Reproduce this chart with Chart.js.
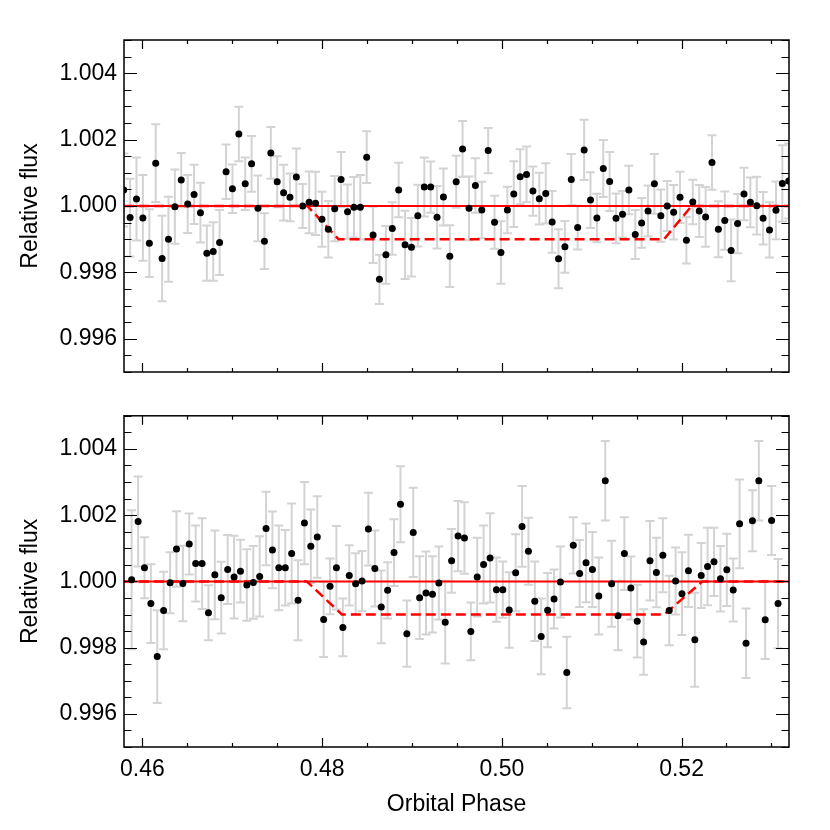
<!DOCTYPE html>
<html>
<head>
<meta charset="utf-8">
<script src="https://cdn.jsdelivr.net/npm/chart.js@4.4.1/dist/chart.umd.min.js"></script>
<style>
  html, body { margin: 0; padding: 0; background: #fff; }
  #wrap { position: relative; width: 830px; height: 830px; }
  canvas { position: absolute; left: 0; }
  #topChart { top: 0; }
  #bottomChart { top: 395px; }
</style>
</head>
<body>
<div id="wrap">
  <canvas id="topChart" width="830" height="395"></canvas>
  <canvas id="bottomChart" width="830" height="435"></canvas>
</div>
<script>
// axis ranges and tick labels
const phaseRange = [0.45795, 0.53196];
const fluxRange = [0.995, 1.005];
const phaseTicks = [0.46, 0.48, 0.50, 0.52];
const fluxTicks = [0.996, 0.998, 1.000, 1.002, 1.004];

// upper panel light curve
const topPhase = [
  0.45792, 0.45863, 0.45934, 0.46005, 0.46077, 0.46148, 0.46219, 0.46290, 0.46361, 0.46432,
  0.46504, 0.46575, 0.46646, 0.46717, 0.46788, 0.46859, 0.46931, 0.47002, 0.47073, 0.47144,
  0.47215, 0.47286, 0.47358, 0.47429, 0.47500, 0.47571, 0.47642, 0.47713, 0.47784, 0.47856,
  0.47927, 0.47998, 0.48069, 0.48140, 0.48211, 0.48283, 0.48354, 0.48425, 0.48496, 0.48567,
  0.48638, 0.48710, 0.48781, 0.48852, 0.48923, 0.48994, 0.49065, 0.49137, 0.49208, 0.49279,
  0.49350, 0.49421, 0.49492, 0.49563, 0.49635, 0.49706, 0.49777, 0.49848, 0.49919, 0.49990,
  0.50062, 0.50133, 0.50204, 0.50275, 0.50346, 0.50417, 0.50489, 0.50560, 0.50631, 0.50702,
  0.50773, 0.50844, 0.50916, 0.50987, 0.51058, 0.51129, 0.51200, 0.51271, 0.51343, 0.51414,
  0.51485, 0.51556, 0.51627, 0.51698, 0.51770, 0.51841, 0.51912, 0.51983, 0.52054, 0.52125,
  0.52197, 0.52268, 0.52339, 0.52410, 0.52481, 0.52552, 0.52624, 0.52695, 0.52766, 0.52837,
  0.52908, 0.52979, 0.53051, 0.53122, 0.53193
];
const topFlux = [
  1.00048, 0.99965, 1.00021, 0.99964, 0.99888, 1.00129, 0.99842, 0.99900, 0.99998, 1.00078,
  1.00006, 1.00035, 0.99980, 0.99858, 0.99863, 0.99890, 1.00103, 1.00052, 1.00217, 1.00067,
  1.00127, 0.99993, 0.99894, 1.00160, 1.00073, 1.00040, 1.00026, 1.00087, 1.00000, 1.00011,
  1.00008, 0.99960, 0.99930, 0.99992, 1.00080, 0.99983, 0.99996, 0.99996, 1.00147, 0.99913,
  0.99779, 0.99853, 0.99932, 1.00048, 0.99883, 0.99876, 0.99971, 1.00057, 1.00057, 0.99966,
  1.00027, 0.99849, 1.00073, 1.00172, 0.99993, 1.00062, 0.99988, 1.00167, 0.99951, 0.99860,
  0.99988, 1.00036, 1.00088, 1.00095, 1.00045, 1.00022, 1.00038, 0.99952, 0.99841, 0.99877,
  1.00080, 0.99935, 1.00169, 1.00018, 0.99964, 1.00113, 1.00074, 0.99963, 0.99975, 1.00048,
  0.99914, 0.99949, 0.99985, 1.00067, 0.99971, 1.00000, 0.99981, 1.00026, 0.99897, 1.00012,
  0.99985, 0.99967, 1.00131, 0.99930, 0.99956, 0.99866, 0.99947, 1.00036, 1.00011, 1.00001,
  0.99963, 0.99928, 0.99987, 1.00068, 1.00075
];
const topErr = [
  0.00110, 0.00117, 0.00125, 0.00129, 0.00102, 0.00117, 0.00129, 0.00128, 0.00112, 0.00082,
  0.00087, 0.00089, 0.00090, 0.00083, 0.00088, 0.00098, 0.00082, 0.00073, 0.00082, 0.00079,
  0.00084, 0.00099, 0.00084, 0.00078, 0.00077, 0.00084, 0.00072, 0.00086, 0.00066, 0.00093,
  0.00095, 0.00083, 0.00085, 0.00098, 0.00083, 0.00082, 0.00091, 0.00097, 0.00078, 0.00085,
  0.00074, 0.00087, 0.00079, 0.00082, 0.00103, 0.00088, 0.00093, 0.00089, 0.00077, 0.00094,
  0.00086, 0.00093, 0.00078, 0.00084, 0.00096, 0.00082, 0.00085, 0.00068, 0.00080, 0.00094,
  0.00070, 0.00099, 0.00083, 0.00084, 0.00074, 0.00078, 0.00091, 0.00093, 0.00089, 0.00078,
  0.00077, 0.00066, 0.00091, 0.00084, 0.00073, 0.00086, 0.00089, 0.00075, 0.00070, 0.00073,
  0.00074, 0.00075, 0.00077, 0.00090, 0.00079, 0.00075, 0.00082, 0.00077, 0.00070, 0.00067,
  0.00078, 0.00090, 0.00082, 0.00084, 0.00088, 0.00093, 0.00089, 0.00079, 0.00075, 0.00087,
  0.00079, 0.00083, 0.00087, 0.00115, 0.00113
];

// lower panel light curve
const bottomPhase = [
  0.45880, 0.45952, 0.46023, 0.46094, 0.46165, 0.46236, 0.46308, 0.46379, 0.46450, 0.46521,
  0.46593, 0.46664, 0.46735, 0.46806, 0.46877, 0.46949, 0.47020, 0.47091, 0.47162, 0.47234,
  0.47305, 0.47376, 0.47447, 0.47518, 0.47590, 0.47661, 0.47732, 0.47803, 0.47874, 0.47946,
  0.48017, 0.48088, 0.48159, 0.48231, 0.48302, 0.48373, 0.48444, 0.48515, 0.48587, 0.48658,
  0.48729, 0.48800, 0.48872, 0.48943, 0.49014, 0.49085, 0.49156, 0.49228, 0.49299, 0.49370,
  0.49441, 0.49513, 0.49584, 0.49655, 0.49726, 0.49797, 0.49869, 0.49940, 0.50011, 0.50082,
  0.50154, 0.50225, 0.50296, 0.50367, 0.50438, 0.50510, 0.50581, 0.50652, 0.50723, 0.50795,
  0.50866, 0.50937, 0.51008, 0.51079, 0.51151, 0.51222, 0.51293, 0.51364, 0.51436, 0.51507,
  0.51578, 0.51649, 0.51720, 0.51792, 0.51863, 0.51934, 0.52005, 0.52077, 0.52148, 0.52219,
  0.52290, 0.52361, 0.52433, 0.52504, 0.52575, 0.52646, 0.52718, 0.52789, 0.52860, 0.52931,
  0.53002, 0.53074
];
const bottomFlux = [
  1.00005, 1.00181, 1.00041, 0.99933, 0.99773, 0.99912, 0.99996, 1.00098, 0.99994, 1.00113,
  1.00054, 1.00054, 0.99905, 1.00020, 0.99951, 1.00036, 1.00013, 1.00031, 0.99989, 0.99997,
  1.00015, 1.00160, 1.00095, 1.00041, 1.00041, 1.00084, 0.99943, 1.00176, 1.00106, 1.00134,
  0.99885, 0.99985, 1.00041, 0.99861, 1.00018, 0.99993, 1.00001, 1.00158, 1.00039, 0.99923,
  0.99973, 1.00087, 1.00233, 0.99842, 1.00148, 0.99951, 0.99965, 0.99961, 0.99995, 0.99877,
  1.00062, 1.00137, 1.00131, 0.99849, 1.00013, 1.00051, 1.00071, 0.99975, 0.99975, 0.99914,
  1.00026, 1.00166, 1.00091, 0.99940, 0.99834, 0.99913, 0.99947, 0.99998, 0.99725, 1.00109,
  1.00024, 1.00056, 1.00036, 0.99956, 1.00304, 0.99993, 0.99896, 1.00084, 0.99980, 0.99880,
  0.99817, 1.00062, 1.00027, 1.00079, 0.99912, 1.00001, 0.99963, 1.00032, 0.99824, 1.00018,
  1.00045, 1.00059, 1.00008, 1.00035, 0.99974, 1.00174, 0.99813, 1.00183, 1.00304, 0.99884,
  1.00184, 0.99933
];
const bottomErr = [
  0.00210, 0.00136, 0.00092, 0.00119, 0.00140, 0.00117, 0.00092, 0.00114, 0.00114, 0.00092,
  0.00115, 0.00137, 0.00083, 0.00134, 0.00108, 0.00104, 0.00125, 0.00095, 0.00108, 0.00110,
  0.00121, 0.00111, 0.00116, 0.00128, 0.00114, 0.00151, 0.00121, 0.00124, 0.00111, 0.00123,
  0.00113, 0.00084, 0.00126, 0.00087, 0.00091, 0.00092, 0.00091, 0.00110, 0.00115, 0.00110,
  0.00085, 0.00101, 0.00115, 0.00100, 0.00135, 0.00125, 0.00125, 0.00115, 0.00110, 0.00125,
  0.00096, 0.00106, 0.00108, 0.00087, 0.00119, 0.00118, 0.00135, 0.00097, 0.00085, 0.00114,
  0.00116, 0.00122, 0.00101, 0.00120, 0.00114, 0.00112, 0.00089, 0.00107, 0.00108, 0.00085,
  0.00101, 0.00119, 0.00113, 0.00116, 0.00120, 0.00130, 0.00104, 0.00110, 0.00095, 0.00110,
  0.00099, 0.00120, 0.00105, 0.00112, 0.00105, 0.00101, 0.00125, 0.00109, 0.00142, 0.00098,
  0.00117, 0.00103, 0.00099, 0.00109, 0.00095, 0.00134, 0.00105, 0.00092, 0.00120, 0.00118,
  0.00104, 0.00135
];

// flat baseline and eclipse models
const baselinePhase = [0.45795, 0.53196];
const baselineFlux = [1.0, 1.0];
const topModelPhase = [0.45795, 0.47836, 0.48182, 0.51806, 0.52112, 0.53196];
const topModelFlux = [1.0, 1.0, 0.999, 0.999, 1.0, 1.0];
const bottomModelPhase = [0.45795, 0.47830, 0.48220, 0.51806, 0.52234, 0.53196];
const bottomModelFlux = [1.0, 1.0, 0.999, 0.999, 1.0, 1.0];

const FONT = '"Liberation Sans", Arial, Helvetica, sans-serif';
const zip = (xs, ys) => xs.map((x, i) => ({ x: x, y: ys[i] }));

// grey error bars behind the points
const errorBars = {
  id: 'errorBars',
  beforeDatasetsDraw(chart) {
    const { ctx, chartArea: a, scales: { x, y } } = chart;
    const pts = chart.data.datasets[0].data;
    ctx.save();
    ctx.beginPath();
    ctx.rect(a.left, a.top, a.right - a.left, a.bottom - a.top);
    ctx.clip();
    ctx.strokeStyle = '#d3d3d3';
    ctx.lineWidth = 2;
    pts.forEach(p => {
      const px = x.getPixelForValue(p.x);
      const lo = y.getPixelForValue(p.y - p.err);
      const hi = y.getPixelForValue(p.y + p.err);
      ctx.beginPath();
      ctx.moveTo(px, lo); ctx.lineTo(px, hi);
      ctx.moveTo(px - 4.5, lo); ctx.lineTo(px + 4.5, lo);
      ctx.moveTo(px - 4.5, hi); ctx.lineTo(px + 4.5, hi);
      ctx.stroke();
    });
    ctx.restore();
  }
};

// box frame with inward ticks on all four sides
const frameTicks = {
  id: 'frameTicks',
  afterDraw(chart) {
    const { ctx, chartArea: a, scales: { x, y } } = chart;
    ctx.save();
    ctx.strokeStyle = '#000';
    ctx.lineWidth = 1.5;
    ctx.strokeRect(a.left, a.top, a.right - a.left, a.bottom - a.top);
    ctx.lineWidth = 1.2;
    ctx.beginPath();
    for (let i = 0; i <= 20; i++) {
      const v = 0.455 + i * 0.005;
      if (v < x.min || v > x.max) continue;
      const len = (i % 4 === 1) ? 9 : 4;
      const px = Math.round(x.getPixelForValue(v)) + 0.5;
      ctx.moveTo(px, a.bottom); ctx.lineTo(px, a.bottom - len);
      ctx.moveTo(px, a.top); ctx.lineTo(px, a.top + len);
    }
    for (let i = 0; i <= 20; i++) {
      const v = 0.995 + i * 0.0005;
      const len = (i % 4 === 2) ? 13 : 7.5;
      const py = Math.round(y.getPixelForValue(v)) + 0.5;
      ctx.moveTo(a.left, py); ctx.lineTo(a.left + len, py);
      ctx.moveTo(a.right, py); ctx.lineTo(a.right - len, py);
    }
    ctx.stroke();
    ctx.restore();
  }
};

function makePanel(id, phase, flux, err, modelPhase, modelFlux, opts) {
  const points = phase.map((p, i) => ({ x: p, y: flux[i], err: err[i] }));
  return new Chart(document.getElementById(id), {
    type: 'scatter',
    data: {
      datasets: [
        {
          data: points,
          pointRadius: 3.5,
          pointBackgroundColor: '#000',
          pointBorderWidth: 0,
          order: 0
        },
        {
          data: zip(baselinePhase, baselineFlux),
          showLine: true,
          borderColor: '#ff0000',
          borderWidth: 2,
          pointRadius: 0,
          order: 1
        },
        {
          data: zip(modelPhase, modelFlux),
          showLine: true,
          borderColor: '#ff0000',
          borderWidth: 2.5,
          borderDash: [10, 5],
          pointRadius: 0,
          order: 2
        }
      ]
    },
    options: {
      responsive: false,
      animation: false,
      events: [],
      layout: { padding: { top: opts.padTop, right: 41, left: 0, bottom: 0 } },
      plugins: { legend: { display: false }, tooltip: { enabled: false } },
      scales: {
        x: {
          type: 'linear',
          min: phaseRange[0],
          max: phaseRange[1],
          afterBuildTicks: s => { s.ticks = phaseTicks.map(v => ({ value: v })); },
          afterFit: s => { s.height = opts.xHeight; },
          grid: { display: false, drawTicks: false },
          border: { display: false },
          ticks: {
            display: opts.showX,
            autoSkip: false,
            maxRotation: 0,
            padding: 9,
            color: '#000',
            font: { family: FONT, size: 23 },
            callback: v => v.toFixed(2)
          },
          title: {
            display: opts.showX,
            text: 'Orbital Phase',
            color: '#000',
            padding: { top: 0, bottom: 12 },
            font: { family: FONT, size: 23 }
          }
        },
        y: {
          type: 'linear',
          min: fluxRange[0],
          max: fluxRange[1],
          afterBuildTicks: s => { s.ticks = fluxTicks.map(v => ({ value: v })); },
          afterFit: s => { s.width = 124; },
          grid: { display: false, drawTicks: false },
          border: { display: false },
          ticks: {
            autoSkip: false,
            padding: 7,
            color: '#000',
            font: { family: FONT, size: 23 },
            callback: v => v.toFixed(3)
          },
          title: {
            display: true,
            text: 'Relative flux',
            color: '#000',
            padding: { top: 17, bottom: 0 },
            font: { family: FONT, size: 23 }
          }
        }
      }
    },
    plugins: [errorBars, frameTicks]
  });
}

makePanel('topChart', topPhase, topFlux, topErr, topModelPhase, topModelFlux,
  { padTop: 40, xHeight: 23, showX: false });
makePanel('bottomChart', bottomPhase, bottomFlux, bottomErr, bottomModelPhase, bottomModelFlux,
  { padTop: 19, xHeight: 83, showX: true });
</script>
</body>
</html>
